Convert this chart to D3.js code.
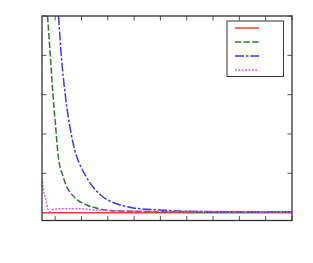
<!DOCTYPE html>
<html>
<head>
<meta charset="utf-8">
<script src="https://cdn.jsdelivr.net/npm/d3@7"></script>
<style>
body { margin: 0; background: #fff; }
svg { display: block; }
</style>
</head>
<body>
<svg id="chart"></svg>
<script>
var width = 313
var height = 263

// values (no labels in the original)
var xTicks = [0, 1, 2, 3, 4, 5, 6, 7, 8, 9]
var yTicks = [0, 1, 2, 3, 4, 5]

var redX = [-0.5, 9]
var redY = [0, 0]

var greenX = [-0.29, -0.185, -0.083, 0.042, 0.091, 0.156, 0.281, 0.41, 0.60, 0.85, 1.17, 1.61, 2.12, 2.8, 3.98, 6.0, 9]
var greenY = [5.0, 4.0, 3.0, 2.0, 1.6, 1.26, 0.96, 0.70, 0.49, 0.32, 0.20, 0.11, 0.05, 0.035, 0.025, 0.018, 0.015]

var blueX = [0.13, 0.232, 0.383, 0.61, 0.74, 0.914, 1.17, 1.48, 1.80, 2.12, 2.45, 2.97, 3.98, 5.0, 7.0, 9]
var blueY = [5.0, 4.0, 3.0, 2.0, 1.6, 1.26, 0.92, 0.62, 0.41, 0.28, 0.2, 0.12, 0.07, 0.035, 0.022, 0.02]

var magentaX = [-0.5, -0.42, -0.34, -0.28, -0.22, -0.03, 0.22, 0.9, 1.48, 2.24, 3.6, 5.5, 9]
var magentaY = [0.875, 0.5, 0.3, 0.1, 0.025, 0.086, 0.1, 0.1, 0.07, 0.05, 0.035, 0.028, 0.025]

var series = [
	{xs: redX, ys: redY, color: "#ff3b3b", dash: null},
	{xs: greenX, ys: greenY, color: "#2b7b2b", dash: "6.3,2.3"},
	{xs: blueX, ys: blueY, color: "#3a3aff", dash: "9,2,2.5,2"},
	{xs: magentaX, ys: magentaY, color: "#f23ff2", dash: "1.7,1.7"}
]

var plotL = 42, plotR = 292, plotT = 16, plotB = 220.5

var svg = d3.select("#chart")
	.attr("width", width)
	.attr("height", height)

var xScale = d3.scaleLinear()
	.domain([-0.5, 9])
	.range([plotL, plotR])

var yScale = d3.scaleLinear()
	.domain([-0.2, 5])
	.range([plotB, plotT])

svg.append("clipPath")
	.attr("id", "plotClip")
	.append("rect")
	.attr("x", plotL)
	.attr("y", plotT)
	.attr("width", plotR - plotL)
	.attr("height", plotB - plotT)

// inward ticks on all four sides
var tickLen = 4.5
var tickG = svg.append("g")
	.attr("stroke", "#555")
	.attr("stroke-width", 1)

xTicks.forEach(function(t){
	var x = xScale(t)
	tickG.append("line").attr("x1", x).attr("x2", x).attr("y1", plotB).attr("y2", plotB - tickLen)
	tickG.append("line").attr("x1", x).attr("x2", x).attr("y1", plotT).attr("y2", plotT + tickLen)
})
yTicks.forEach(function(t){
	var y = yScale(t)
	tickG.append("line").attr("x1", plotL).attr("x2", plotL + tickLen).attr("y1", y).attr("y2", y)
	tickG.append("line").attr("x1", plotR).attr("x2", plotR - tickLen).attr("y1", y).attr("y2", y)
})

var line = d3.line()
	.x(function(d){ return xScale(d[0]) })
	.y(function(d){ return yScale(d[1]) })
	.curve(d3.curveMonotoneX)

svg.append("g")
	.attr("clip-path", "url(#plotClip)")
	.selectAll("path")
	.data(series)
	.join("path")
	.attr("d", function(d){
		return line(d.xs.map(function(x, i){ return [x, d.ys[i]] }))
	})
	.attr("fill", "none")
	.attr("stroke", function(d){ return d.color })
	.attr("stroke-width", 1.5)
	.attr("stroke-dasharray", function(d){ return d.dash })

// frame
svg.append("rect")
	.attr("x", plotL)
	.attr("y", plotT)
	.attr("width", plotR - plotL)
	.attr("height", plotB - plotT)
	.attr("fill", "none")
	.attr("stroke", "#333")
	.attr("stroke-width", 1.3)

// legend (entries have no text)
var legend = svg.append("g")
	.attr("transform", "translate(227,21)")

legend.append("rect")
	.attr("width", 56.5)
	.attr("height", 55.5)
	.attr("fill", "#fff")
	.attr("stroke", "#333")
	.attr("stroke-width", 1)

legend.selectAll("line")
	.data(series)
	.join("line")
	.attr("x1", 8)
	.attr("x2", 32)
	.attr("y1", function(d, i){ return 7 + i * 14 })
	.attr("y2", function(d, i){ return 7 + i * 14 })
	.attr("stroke", function(d){ return d.color })
	.attr("stroke-width", 1.5)
	.attr("stroke-dasharray", function(d){ return d.dash })
</script>
</body>
</html>
